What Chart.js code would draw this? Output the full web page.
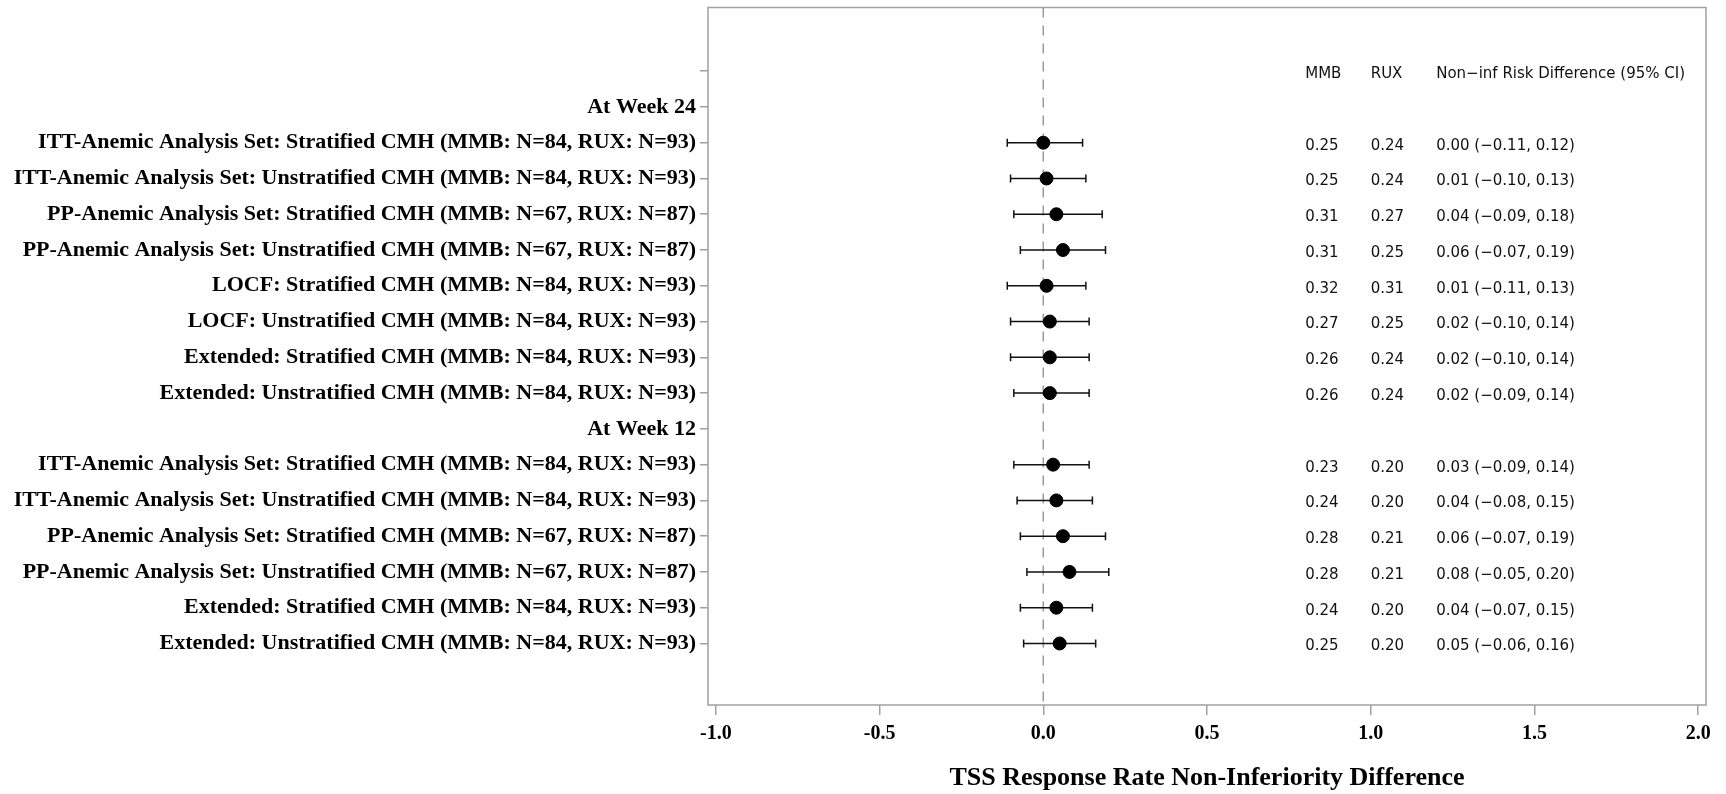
<!DOCTYPE html>
<html>
<head>
<meta charset="utf-8">
<title>TSS Response Rate Non-Inferiority Difference</title>
<script src="https://cdn.jsdelivr.net/npm/chart.js@4.4.1/dist/chart.umd.min.js"></script>
<style>
    html, body { margin: 0; padding: 0; background: #fff; }
    #chart { display: block; }
</style>
</head>
<body>
<canvas id="chart" width="1726" height="794"></canvas>
<script>
// one entry per row, top to bottom; row 0 is the header row of the text columns
const rowLabels = [
    "",
    "At Week 24",
    "ITT-Anemic Analysis Set: Stratified CMH (MMB: N=84, RUX: N=93)",
    "ITT-Anemic Analysis Set: Unstratified CMH (MMB: N=84, RUX: N=93)",
    "PP-Anemic Analysis Set: Stratified CMH (MMB: N=67, RUX: N=87)",
    "PP-Anemic Analysis Set: Unstratified CMH (MMB: N=67, RUX: N=87)",
    "LOCF: Stratified CMH (MMB: N=84, RUX: N=93)",
    "LOCF: Unstratified CMH (MMB: N=84, RUX: N=93)",
    "Extended: Stratified CMH (MMB: N=84, RUX: N=93)",
    "Extended: Unstratified CMH (MMB: N=84, RUX: N=93)",
    "At Week 12",
    "ITT-Anemic Analysis Set: Stratified CMH (MMB: N=84, RUX: N=93)",
    "ITT-Anemic Analysis Set: Unstratified CMH (MMB: N=84, RUX: N=93)",
    "PP-Anemic Analysis Set: Stratified CMH (MMB: N=67, RUX: N=87)",
    "PP-Anemic Analysis Set: Unstratified CMH (MMB: N=67, RUX: N=87)",
    "Extended: Stratified CMH (MMB: N=84, RUX: N=93)",
    "Extended: Unstratified CMH (MMB: N=84, RUX: N=93)"
];

const mmbRate   = [null, null, 0.25, 0.25, 0.31, 0.31, 0.32, 0.27, 0.26, 0.26, null, 0.23, 0.24, 0.28, 0.28, 0.24, 0.25];
const ruxRate   = [null, null, 0.24, 0.24, 0.27, 0.25, 0.31, 0.25, 0.24, 0.24, null, 0.20, 0.20, 0.21, 0.21, 0.20, 0.20];
const riskDiff  = [null, null, 0.00, 0.01, 0.04, 0.06, 0.01, 0.02, 0.02, 0.02, null, 0.03, 0.04, 0.06, 0.08, 0.04, 0.05];
const lowerCI   = [null, null, -0.11, -0.10, -0.09, -0.07, -0.11, -0.10, -0.10, -0.09, null, -0.09, -0.08, -0.07, -0.05, -0.07, -0.06];
const upperCI   = [null, null, 0.12, 0.13, 0.18, 0.19, 0.13, 0.14, 0.14, 0.14, null, 0.14, 0.15, 0.19, 0.20, 0.15, 0.16];

const columnHeaders = ["MMB", "RUX", "Non\u2212inf Risk Difference (95% CI)"];
const xTickValues = [-1.0, -0.5, 0.0, 0.5, 1.0, 1.5, 2.0];
const referenceValue = 0;

// where the text columns sit, in x-axis units
const columnX = [0.8, 1.0, 1.2];

const frameColor = "#a0a0a0";
const serif = "'Liberation Serif', 'Times New Roman', serif";

const fmt2 = (v) => (v < 0 ? "\u2212" : "") + Math.abs(v).toFixed(2);

const rows = rowLabels.map((_, i) => i);
const pointData = rows.filter((i) => riskDiff[i] !== null).map((i) => ({ x: riskDiff[i], y: i }));

// frame around the plot area
const framePlugin = {
    id: "frame",
    afterDraw(chart) {
        const { ctx, chartArea: a } = chart;
        ctx.save();
        ctx.strokeStyle = frameColor;
        ctx.lineWidth = 1.5;
        ctx.strokeRect(a.left, a.top, a.right - a.left, a.bottom - a.top);
        ctx.restore();
    },
};

// CI whiskers, drawn right after the dashed reference line
const errorBarPlugin = {
    id: "errorBars",
    afterDatasetDraw(chart, args) {
        if (args.index !== 0) return;
        const { ctx, scales: { x, y } } = chart;
        ctx.save();
        ctx.strokeStyle = "#111";
        ctx.lineWidth = 1.5;
        rows.forEach((i) => {
            if (lowerCI[i] === null) return;
            const x1 = x.getPixelForValue(lowerCI[i]);
            const x2 = x.getPixelForValue(upperCI[i]);
            const yy = y.getPixelForValue(i);
            ctx.beginPath();
            ctx.moveTo(x1, yy);
            ctx.lineTo(x2, yy);
            ctx.moveTo(x1, yy - 4);
            ctx.lineTo(x1, yy + 4);
            ctx.moveTo(x2, yy - 4);
            ctx.lineTo(x2, yy + 4);
            ctx.stroke();
        });
        ctx.restore();
    },
};

// MMB / RUX / risk difference columns on the right
const textColumnsPlugin = {
    id: "textColumns",
    afterDatasetsDraw(chart) {
        const { ctx, scales: { x, y } } = chart;
        ctx.save();
        ctx.fillStyle = "#111";
        ctx.font = "15px 'DejaVu Sans', sans-serif";
        ctx.textAlign = "left";
        ctx.textBaseline = "middle";
        const cx = columnX.map((v) => x.getPixelForValue(v));
        const hy = y.getPixelForValue(0) + 3;
        columnHeaders.forEach((h, k) => ctx.fillText(h, cx[k], hy));
        rows.forEach((i) => {
            if (riskDiff[i] === null) return;
            const yy = y.getPixelForValue(i) + 3;
            ctx.fillText(mmbRate[i].toFixed(2), cx[0], yy);
            ctx.fillText(ruxRate[i].toFixed(2), cx[1], yy);
            ctx.fillText(riskDiff[i].toFixed(2) + " (" + fmt2(lowerCI[i]) + ", " + fmt2(upperCI[i]) + ")", cx[2], yy);
        });
        ctx.restore();
    },
};

new Chart(document.getElementById("chart"), {
    type: "scatter",
    data: {
        datasets: [
            {
                // dashed line at no difference
                type: "line",
                data: [{ x: referenceValue, y: -1.78 }, { x: referenceValue, y: 17.72 }],
                borderColor: "#999",
                borderWidth: 1.5,
                borderDash: [10, 8],
                pointRadius: 0,
                order: 2,
            },
            {
                data: pointData,
                backgroundColor: "#000",
                borderColor: "#000",
                pointRadius: 6.5,
                pointHoverRadius: 6.5,
                order: 1,
            },
        ],
    },
    options: {
        responsive: false,
        animation: false,
        layout: { padding: { top: 7, right: 20, left: 0, bottom: 0 } },
        plugins: {
            legend: { display: false },
            tooltip: { enabled: false },
        },
        scales: {
            x: {
                type: "linear",
                min: -1.024,
                max: 2.024,
                afterBuildTicks: (scale) => {
                    scale.ticks = xTickValues.map((v) => ({ value: v }));
                },
                afterFit: (scale) => {
                    scale.height = 89;
                    scale.paddingLeft = 0;
                    scale.paddingRight = 0;
                },
                ticks: {
                    callback: (v) => v.toFixed(1),
                    font: { family: serif, size: 20, weight: "bold" },
                    color: "#000",
                    padding: 7,
                    maxRotation: 0,
                },
                grid: { drawOnChartArea: false, tickLength: 10, color: frameColor, lineWidth: 1.5 },
                border: { display: false },
                title: {
                    display: true,
                    text: "TSS Response Rate Non-Inferiority Difference",
                    font: { family: serif, size: 26, weight: "bold" },
                    color: "#000",
                    padding: { top: 0, bottom: 0 },
                },
            },
            y: {
                type: "linear",
                reverse: true,
                min: -1.78,
                max: 17.72,
                afterBuildTicks: (scale) => {
                    scale.ticks = rows.map((v) => ({ value: v }));
                },
                afterFit: (scale) => {
                    scale.width = 708;
                    scale.paddingTop = 0;
                    scale.paddingBottom = 0;
                },
                ticks: {
                    callback: (v) => rowLabels[v],
                    font: { family: serif, size: 22, weight: "bold" },
                    color: "#000",
                    padding: 4,
                },
                grid: { drawOnChartArea: false, tickLength: 8, color: frameColor, lineWidth: 1.5 },
                border: { display: false },
            },
        },
    },
    plugins: [errorBarPlugin, textColumnsPlugin, framePlugin],
});
</script>
</body>
</html>
